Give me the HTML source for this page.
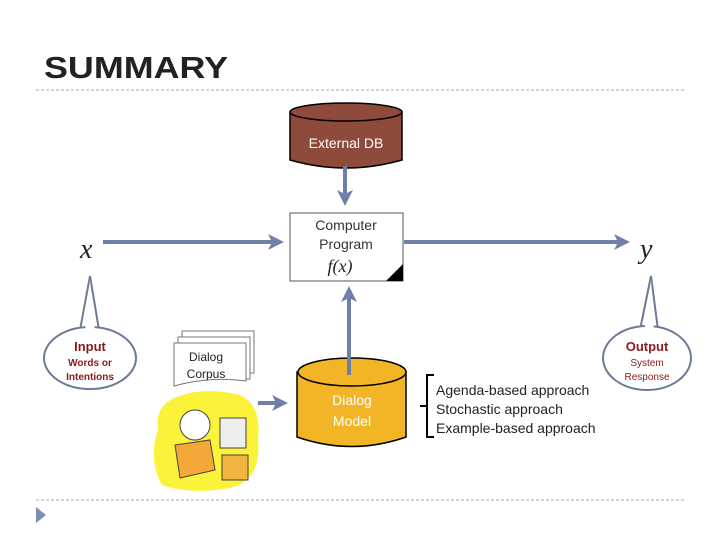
<!DOCTYPE html>
<html><head><style>
body{margin:0;width:720px;height:540px;background:#fff;overflow:hidden;font-family:"Liberation Sans",sans-serif}
</style></head><body>
<svg width="720" height="540" xmlns="http://www.w3.org/2000/svg">
<defs>
<marker id="ah" markerWidth="4" markerHeight="4" refX="2.5" refY="2" orient="auto" markerUnits="strokeWidth"><path d="M0,0 L4,2 L0,4 L1,2 Z" fill="#6f7fa6"/></marker>
</defs>
<text x="44" y="78" font-family="Liberation Sans" font-weight="bold" font-size="31" fill="#222" textLength="184" lengthAdjust="spacingAndGlyphs">SUMMARY</text>
<line x1="36" y1="90" x2="686" y2="90" stroke="#aaa" stroke-dasharray="3,2"/>
<line x1="36" y1="500" x2="686" y2="500" stroke="#aaa" stroke-dasharray="3,2"/>
<path d="M36,507 L46,515 L36,523 Z" fill="#7a90b0"/>
<path d="M290,112 L290,160 Q346,176 402,160 L402,112 Z" fill="#8e4a3a" stroke="#000" stroke-width="1.5"/>
<ellipse cx="346" cy="112" rx="56" ry="9" fill="#8e4a3a" stroke="#000" stroke-width="1.5"/>
<text x="346" y="148" text-anchor="middle" font-size="14" fill="#fff">External DB</text>
<line x1="345" y1="166" x2="345" y2="200" stroke="#6f7fa6" stroke-width="4" marker-end="url(#ah)"/>
<line x1="103" y1="242" x2="278" y2="242" stroke="#6f7fa6" stroke-width="4" marker-end="url(#ah)"/>
<line x1="404" y1="242" x2="624" y2="242" stroke="#6f7fa6" stroke-width="4" marker-end="url(#ah)"/>
<line x1="349" y1="375" x2="349" y2="292" stroke="#6f7fa6" stroke-width="4" marker-end="url(#ah)"/>
<line x1="258" y1="403" x2="282" y2="403" stroke="#6f7fa6" stroke-width="4" marker-end="url(#ah)"/>
<rect x="290" y="213" width="113" height="68" fill="#fff" stroke="#555"/>
<path d="M403,264 L403,281 L386,281 Z" fill="#000"/>
<text x="346" y="230" text-anchor="middle" font-size="14" fill="#333">Computer</text>
<text x="346" y="249" text-anchor="middle" font-size="14" fill="#333">Program</text>
<text x="340" y="272" text-anchor="middle" font-family="Liberation Serif" font-style="italic" font-size="18" fill="#222">f(x)</text>
<text x="80" y="258" font-family="Liberation Serif" font-style="italic" font-size="28" fill="#222">x</text>
<text x="640" y="258" font-family="Liberation Serif" font-style="italic" font-size="28" fill="#222">y</text>
<path d="M80,330 L90,276 L99,330" fill="#fff" stroke="#6b7a96" stroke-width="2"/>
<ellipse cx="90" cy="358" rx="46" ry="31" fill="#fff" stroke="#6b7a96" stroke-width="2"/>
<path d="M85,332 L90,280 L95,332 Z" fill="#fff"/>
<text x="90" y="351" text-anchor="middle" font-weight="bold" font-size="13" fill="#8b1a1a">Input</text>
<text x="90" y="366" text-anchor="middle" font-weight="bold" font-size="10" fill="#8b1a1a">Words or</text>
<text x="90" y="380" text-anchor="middle" font-weight="bold" font-size="10" fill="#8b1a1a">Intentions</text>
<path d="M640,330 L651,276 L658,330" fill="#fff" stroke="#6b7a96" stroke-width="2"/>
<ellipse cx="647" cy="358" rx="44" ry="32" fill="#fff" stroke="#6b7a96" stroke-width="2"/>
<path d="M644,332 L651,280 L654,332 Z" fill="#fff"/>
<text x="647" y="351" text-anchor="middle" font-weight="bold" font-size="13" fill="#8b1a1a">Output</text>
<text x="647" y="366" text-anchor="middle" font-size="10" fill="#8b1a1a">System</text>
<text x="647" y="380" text-anchor="middle" font-size="10" fill="#8b1a1a">Response</text>
<rect x="182" y="331" width="72" height="42" fill="#fff" stroke="#777"/>
<rect x="178" y="337" width="72" height="42" fill="#fff" stroke="#777"/>
<path d="M174,343 L246,343 L246,381 Q210,376 174,386 Z" fill="#fff" stroke="#777"/>
<text x="206" y="361" text-anchor="middle" font-size="12" fill="#222">Dialog</text>
<text x="206" y="378" text-anchor="middle" font-size="12" fill="#222">Corpus</text>
<path d="M170,400 Q200,385 240,395 Q262,405 258,440 Q262,480 230,488 Q190,495 162,485 Q148,460 158,430 Q155,410 170,400 Z" fill="#fbf23a"/>
<circle cx="195" cy="425" r="15" fill="#fff" stroke="#444"/>
<rect x="220" y="418" width="26" height="30" fill="#eee" stroke="#444"/>
<path d="M175,445 L210,440 L215,470 L180,478 Z" fill="#f3a838" stroke="#444"/>
<rect x="222" y="455" width="26" height="25" fill="#f3b440" stroke="#444"/>
<path d="M297,372 L297,437 Q352,456 406,437 L406,372 Z" fill="#f2b526" stroke="#000" stroke-width="1.5"/>
<ellipse cx="352" cy="372" rx="54" ry="14" fill="#f2b526" stroke="#000" stroke-width="1.5"/>
<line x1="349" y1="375" x2="349" y2="352" stroke="#6f7fa6" stroke-width="4"/>
<text x="352" y="405" text-anchor="middle" font-size="14" fill="#fff">Dialog</text>
<text x="352" y="426" text-anchor="middle" font-size="14" fill="#fff">Model</text>
<path d="M434,375 L427,375 L427,437 L434,437 M427,406 L420,406" fill="none" stroke="#000" stroke-width="2"/>
<text x="436" y="395" font-size="14" fill="#222">Agenda-based approach</text>
<text x="436" y="414" font-size="14" fill="#222">Stochastic approach</text>
<text x="436" y="433" font-size="14" fill="#222">Example-based approach</text>
</svg>
</body></html>
